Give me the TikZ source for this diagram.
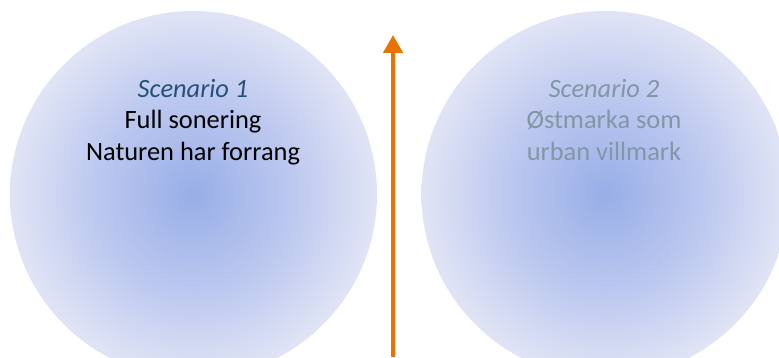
\documentclass[tikz,border=0pt]{standalone}
\usepackage{fontspec}
\setmainfont{Carlito}
\usepackage{tikz}
\usetikzlibrary{arrows.meta,positioning}

\definecolor{glowin}{RGB}{152,174,232}
\definecolor{glowmid}{RGB}{188,200,239}
\definecolor{glowout}{RGB}{223,227,245}
\definecolor{scentitle}{RGB}{38,80,122}
\definecolor{scenfade}{RGB}{130,150,166}
\definecolor{axisorange}{RGB}{232,114,2}
\pgfdeclareradialshading{scenglow}{\pgfpoint{0bp}{0bp}}{color(0bp)=(glowin); color(13.5bp)=(glowmid); color(24.5bp)=(glowout); color(50bp)=(glowout)}

\begin{document}
\begin{tikzpicture}[x=1pt, y=1pt,
    every node/.style={font=\fontsize{26.4}{31.7}\selectfont, inner sep=0pt},
    scenball/.style={circle, minimum size=367pt, shading=scenglow},
    scentext/.style={anchor=base}]
			\useasboundingbox (0,0) rectangle (779,357);
			\clip (0,0) rectangle (779,357);
			
			\node[scenball] (ball1) at (193.5,162.5) {};
			\node[scenball] (ball2) at (605,162.5) {};
			
			\node[scentext, text=scentitle, font=\fontsize{26.4}{31.7}\selectfont\itshape] (t1) at (193,260) {Scenario 1};
			\node[scentext, below=31.5pt of t1.base, anchor=base] (t1a) {Full sonering};
			\node[scentext, below=32pt of t1a.base, anchor=base] (t1b) {Naturen har forrang};
			
			\node[scentext, text=scenfade, font=\fontsize{26.4}{31.7}\selectfont\itshape] (t2) at (604,260) {Scenario 2};
			\node[scentext, text=scenfade, below=31.5pt of t2.base, anchor=base] (t2a) {Østmarka som};
			\node[scentext, text=scenfade, below=32pt of t2a.base, anchor=base] (t2b) {urban villmark};
			
			\coordinate (axlow) at (393,0);
			\coordinate (axtop) at (393,322);
			\draw[-{Triangle[width=19pt,length=18pt]}, line width=4.5pt, axisorange] (axlow) -- (axtop);
		\end{tikzpicture}
\end{document}
